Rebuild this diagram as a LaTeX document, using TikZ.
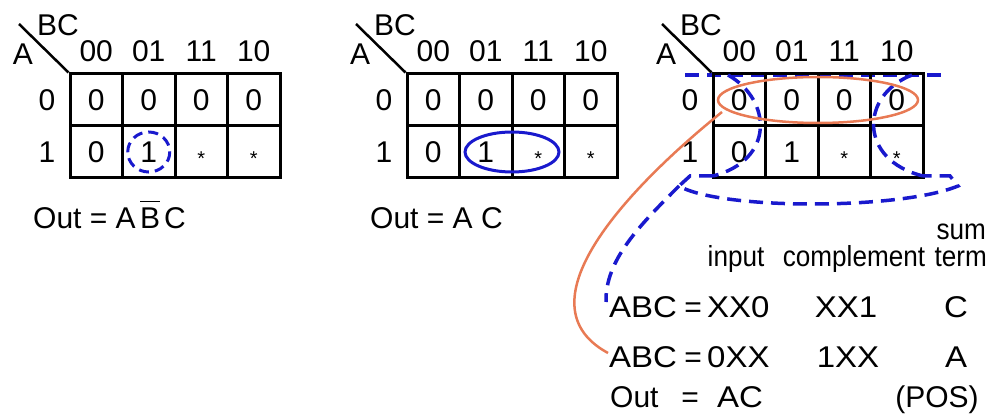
\documentclass[tikz,border=0pt]{standalone}
\usepackage{fontspec}
\setmainfont{Liberation Sans}
\newfontfamily\widefont{Liberation Sans}[FakeStretch=1.1]
\newfontfamily\narrowfont{Liberation Sans}[FakeStretch=0.9]
\usetikzlibrary{calc}
\definecolor{kblue}{RGB}{25,25,205}
\definecolor{korange}{RGB}{232,122,84}
\tikzset{
  txt/.style={font=\fontsize{30}{34}\selectfont, inner sep=0pt},
  maptxt/.style={font=\fontsize{30}{34}\selectfont, inner sep=0pt},
  widetxt/.style={font=\widefont\fontsize{30}{34}\selectfont, inner sep=0pt},
  narrowtxt/.style={font=\narrowfont\fontsize{29}{34}\selectfont, inner sep=0pt},
  cell/.style={draw, line width=3pt, minimum width=52.5pt, minimum height=52pt, inner sep=0pt, font=\fontsize{30}{34}\selectfont},
  starsym/.style={font=\fontsize{20}{22}\selectfont, inner sep=0pt, anchor=base},
  diagline/.style={line width=2.5pt, black},
  bluedash/.style={draw=kblue, line width=3.5pt, dash pattern=on 14pt off 8pt},
  bluecirc/.style={draw=kblue, line width=3pt, dash pattern=on 10pt off 6pt},
  blueoval/.style={draw=kblue, line width=3pt},
  orangeline/.style={draw=korange, line width=2.5pt},
}
\newcommand{\kmap}[2]{%
  \foreach \c/\lab in {0/00,1/01,2/11,3/10}{%
    \node[maptxt] (#2-h\c) at ({#1+26.25+52.5*\c},51) {\lab};
    \node[cell] (#2-c0\c) at ({#1+26.25+52.5*\c},100) {0};
  }
  \node[cell] (#2-c10) at ({#1+26.25},152) {0};
  \node[cell] (#2-c11) at ({#1+78.75},152) {1};
  \node[cell] (#2-c12) at ({#1+131.25},152) {};
  \node[cell] (#2-c13) at ({#1+183.75},152) {};
  \node[starsym] (#2-s2) at ({#1+131.25},166) {*};
  \node[starsym] (#2-s3) at ({#1+183.75},166) {*};
  \node[maptxt] (#2-r0) at ({#1-23},100) {0};
  \node[maptxt] (#2-r1) at ({#1-23},152) {1};
  \node[maptxt] (#2-bc) at ({#1-12},25) {BC};
  \node[maptxt] (#2-a) at ({#1-47},54) {A};
  \coordinate (#2-d) at ({#1-51},24);
  \draw[diagline] (#2-d) -- (#2-c00.north west);
}
\begin{document}
\begin{tikzpicture}[x=1pt,y=-1pt]
\useasboundingbox (0,0) rectangle (995,419);
% map 3 top dashed line (under the grid)
\coordinate (tl) at (685,75);
\coordinate (tr) at (948,75);
\draw[bluedash] (tl) -- (tr);
% maps
\kmap{70}{m1}
\kmap{407}{m2}
\kmap{713}{m3}
% map 1
\draw[bluecirc] (m1-c11) ellipse [x radius=21, y radius=20];
\node[maptxt, anchor=west] (f1a) at (33,218) {Out = A};
\node[maptxt, anchor=west] (f1b) at (140,218) {B};
\node[maptxt, anchor=west] (f1c) at (164,218) {C};
\draw[line width=1.6pt] ($(f1b.north west)+(0,-6)$) -- ($(f1b.north east)+(0,-6)$);
% map 2
\node[maptxt, anchor=west] (f2) at (370,218) {Out = A C};
\draw[blueoval] ($(m2-c11)!0.5!(m2-c12)$) ellipse [x radius=47, y radius=20];
% map 3 groups
\coordinate (lt) at (728,75);
\coordinate (lb) at (713,176);
\coordinate (rt) at (912,75);
\coordinate (rb) at (923,176);
\draw[bluedash] (lt) .. controls (772,100) and (775,160) .. (lb);
\draw[bluedash] (rt) .. controls (860,95) and (858,160) .. (rb);
\coordinate (bl1) at (690,176);
\coordinate (bl) at (679,186);
\coordinate (br1) at (950,176);
\coordinate (br) at (958,186);
\draw[bluedash] (lb) -- (bl1) -- (bl) .. controls (720,210) and (900,210) .. (br) -- (br1) -- (rb);
\coordinate (xx0) at (606,302);
\draw[bluedash] (bl) .. controls (640,225) and (605,260) .. (xx0);
\draw[orangeline] ($(m3-c01)!0.5!(m3-c02)$) ellipse [x radius=100, y radius=23];
\coordinate (oa) at (722,112);
\coordinate (ob) at (608,353);
\draw[orangeline] (oa) .. controls (650,170) and (510,300) .. (ob);
% text block
\node[narrowtxt, anchor=base east] (sum) at (986,240) {sum};
\node[narrowtxt, anchor=base] (inp) at (736,267) {input};
\node[narrowtxt, anchor=base] (cmp) at (854,267) {complement};
\node[narrowtxt, anchor=base east] (term) at (987,267) {term};
\node[widetxt, anchor=base west] (r1a) at (609,318) {ABC};
\node[txt, anchor=base] (r1e) at (693,318) {=};
\node[widetxt, anchor=base west] (r1x) at (707,318) {XX0};
\node[widetxt, anchor=base] (r1b) at (846,318) {XX1};
\node[widetxt, anchor=base] (r1c) at (956,318) {C};
\node[widetxt, anchor=base west] (r2a) at (609,367) {ABC};
\node[txt, anchor=base] (r2e) at (693,367) {=};
\node[widetxt, anchor=base west] (r2x) at (707,367) {0XX};
\node[widetxt, anchor=base] (r2b) at (848,367) {1XX};
\node[widetxt, anchor=base] (r2c) at (956,367) {A};
\node[txt, anchor=base west] (r3a) at (610,407) {Out};
\node[txt, anchor=base] (r3b) at (690,407) {=};
\node[widetxt, anchor=base west] (r3c) at (717,407) {AC};
\node[txt, anchor=base] (r3d) at (937,407) {(POS)};
\end{tikzpicture}
\end{document}
